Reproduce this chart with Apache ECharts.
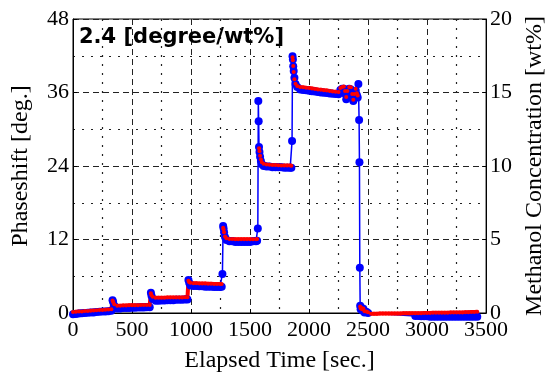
<!DOCTYPE html>
<html>
<head>
<meta charset="utf-8">
<script src="https://cdn.jsdelivr.net/npm/echarts@6/dist/echarts.min.js"></script>
<style>
  html, body { margin: 0; padding: 0; background: #fff; }
  #chart { width: 555px; height: 378px; }
</style>
</head>
<body>
<div id="chart"></div>
<script>
// elapsed time [sec.], one row per concentration step
const elapsedSec = [
  0, 25, 50, 75, 100, 125, 150, 175, 200, 225, 250, 275, 300, 325,
  335, 340, 350, 375, 400, 425, 450, 475, 500, 525, 550, 575, 600, 625, 650,
  660, 665, 675, 700, 725, 750, 775, 800, 825, 850, 875, 900, 925, 950, 970,
  978, 985, 995, 1020, 1045, 1070, 1095, 1120, 1145, 1170, 1195, 1220, 1245, 1260,
  1266, 1272, 1276, 1280, 1288, 1300, 1325, 1350, 1375, 1400, 1425, 1450, 1475, 1500, 1525, 1550, 1560,
  1566, 1570, 1573, 1576, 1580, 1585, 1592, 1600, 1615, 1640, 1665, 1690, 1715, 1740, 1765, 1790, 1815, 1840, 1850,
  1856, 1860, 1863, 1866, 1870, 1876, 1885, 1900, 1925, 1950, 1975, 2000, 2025, 2050, 2075, 2100, 2125, 2150, 2175, 2200, 2225, 2250,
  2265, 2280, 2295, 2305, 2315, 2325, 2340, 2355, 2365, 2375, 2385, 2395, 2405, 2412, 2418,
  2424, 2427, 2430, 2433, 2437, 2442, 2450, 2460, 2470, 2485, 2500,
  2525, 2550, 2575, 2600, 2625, 2650, 2675, 2700, 2725, 2750, 2775, 2800, 2825, 2850, 2875,
  2900, 2925, 2950, 2975, 3000, 3025, 3050, 3075, 3100, 3125, 3150, 3175, 3200, 3225, 3250, 3275, 3300, 3325, 3350, 3375, 3400, 3425
];

// phaseshift [deg.] (blue, left axis)
const phaseshiftDeg = [
  -0.2, -0.15, -0.1, -0.05, 0, 0.05, 0.1, 0.1, 0.15, 0.2, 0.25, 0.25, 0.3, 0.35,
  2.1, 1.8, 1.2, 0.75, 0.75, 0.8, 0.8, 0.8, 0.85, 0.85, 0.9, 0.9, 0.9, 0.95, 0.95,
  3.3, 2.8, 2.3, 2.0, 2.0, 2.05, 2.05, 2.1, 2.1, 2.1, 2.15, 2.15, 2.15, 2.2, 2.2,
  5.4, 4.9, 4.5, 4.4, 4.4, 4.35, 4.35, 4.3, 4.3, 4.3, 4.25, 4.25, 4.25, 4.3,
  6.35, 14.2, 13.8, 13.2, 12.4, 11.9, 11.7, 11.7, 11.6, 11.6, 11.6, 11.6, 11.6, 11.6, 11.7, 11.7, 11.8,
  13.8, 34.6, 31.3, 27.1, 26.3, 25.5, 24.8, 24.3, 24.0, 23.9, 23.9, 23.8, 23.8, 23.8, 23.8, 23.7, 23.7, 23.7, 23.7,
  28.1, 41.9, 41.4, 40.3, 39.5, 38.4, 37.4, 36.9, 36.5, 36.4, 36.35, 36.3, 36.2, 36.15, 36.1, 36.0, 35.95, 35.9, 35.85, 35.8, 35.75, 35.7,
  36.4, 36.6, 36.6, 35.8, 34.9, 35.8, 36.6, 36.5, 35.6, 34.6, 35.4, 36.3, 35.6, 35.2, 37.4,
  31.5, 24.6, 7.4, 1.2, 0.6, 0.9, 0.4, 0.7, 0.1, 0.2, 0.0,
  null, null, null, null, null, null, null, null, null, null, null, null, null, null, null,
  -0.5, -0.5, -0.55, -0.55, -0.55, -0.6, -0.6, -0.6, -0.6, -0.6, -0.6, -0.6, -0.6, -0.6, -0.6, -0.6, -0.6, -0.6, -0.6, -0.6, -0.6, -0.6
];

// methanol concentration [wt%] (red, right axis)
const methanolWt = [
  0.06, 0.08, 0.1, 0.11, 0.13, 0.14, 0.16, 0.17, 0.18, 0.2, 0.21, 0.22, 0.23, 0.25,
  0.85, 0.75, 0.6, 0.5, 0.5, 0.51, 0.51, 0.52, 0.52, 0.53, 0.53, 0.54, 0.54, 0.55, 0.55,
  1.35, 1.2, 1.1, 1.03, 1.03, 1.04, 1.04, 1.05, 1.05, 1.05, 1.06, 1.06, 1.06, 1.07, 1.07,
  2.2, 2.1, 2.05, 2.02, 2.02, 2.01, 2.0, 2.0, 1.99, 1.99, 1.98, 1.98, 1.97, 1.98,
  null, 5.8, 5.7, 5.5, 5.2, 5.08, 5.04, 5.03, 5.02, 5.02, 5.02, 5.01, 5.01, 5.01, 5.02, 5.02, 5.03,
  null, null, null, 11.2, 11.0, 10.7, 10.45, 10.25, 10.15, 10.1, 10.08, 10.07, 10.06, 10.05, 10.04, 10.04, 10.03, 10.03, 10.02,
  null, 17.4, 17.2, 16.8, 16.4, 15.9, 15.6, 15.45, 15.38, 15.35, 15.32, 15.3, 15.27, 15.24, 15.21, 15.19, 15.16, 15.13, 15.1, 15.07, 15.05, 15.03,
  15.3, 15.38, 15.4, 15.1, 14.7, 15.1, 15.38, 15.35, 14.9, 14.5, 14.9, 15.25, 14.95, 14.8, null,
  null, null, null, 0.45, 0.3, 0.35, 0.25, 0.3, 0.12, 0.1, 0.05,
  -0.05, -0.05, -0.05, -0.04, -0.04, -0.04, -0.04, -0.03, -0.03, -0.03, -0.03, -0.02, -0.02, -0.02, -0.02,
  -0.01, -0.01, -0.01, 0, 0, 0, 0.01, 0.01, 0.01, 0.02, 0.02, 0.02, 0.03, 0.03, 0.03, 0.04, 0.04, 0.05, 0.05, 0.06, 0.07, 0.08
];

if (phaseshiftDeg.length !== elapsedSec.length || methanolWt.length !== elapsedSec.length) {
  console.warn('length mismatch', elapsedSec.length, phaseshiftDeg.length, methanolWt.length);
}

const pair = (vals) => elapsedSec.map((t, i) => [t, vals[i] == null ? '-' : vals[i]]);

const serif = 'Liberation Serif';
const majorLine = { show: true, lineStyle: { color: '#222', type: [6, 4], width: 1 } };
const minorLine = { show: true, lineStyle: { color: '#222', type: [2, 7], width: 1.2 } };
// tick labels go through rich text so the serif face is applied for sure
const tickLabel = {
  color: '#000',
  formatter: (v) => '{t|' + v + '}',
  rich: { t: { fontFamily: serif, fontSize: 22, color: '#000' } }
};

const chart = echarts.init(document.getElementById('chart'));

chart.setOption({
  animation: false,
  backgroundColor: '#fff',
  textStyle: { fontFamily: serif },
  title: {
    text: '2.4 [degree/wt%]',
    left: 79,
    top: 27,
    padding: 0,
    textStyle: { fontFamily: 'DejaVu Sans', fontWeight: 'bold', fontSize: 21, color: '#000' }
  },
  grid: {
    left: 73, right: 61, top: 19, bottom: 62,
    show: true, borderColor: '#000', borderWidth: 1, backgroundColor: '#fff'
  },
  xAxis: {
    type: 'value',
    min: 0, max: 3500, interval: 500,
    name: 'Elapsed Time [sec.]',
    nameLocation: 'middle',
    nameGap: 36,
    nameTextStyle: { fontFamily: serif, fontSize: 24, color: '#000' },
    axisLine: { lineStyle: { color: '#000' } },
    axisTick: { inside: true, length: 4, lineStyle: { color: '#000' } },
    axisLabel: Object.assign({ margin: 6 }, tickLabel),
    splitLine: majorLine,
    minorTick: { show: false, splitNumber: 2 },
    minorSplitLine: minorLine
  },
  yAxis: [{
    type: 'value',
    min: 0, max: 48, interval: 12,
    name: 'Phaseshift [deg.]',
    nameLocation: 'middle',
    nameRotate: 90,
    nameGap: 40,
    nameTextStyle: { fontFamily: serif, fontSize: 24, color: '#000' },
    axisLine: { show: true, lineStyle: { color: '#000' } },
    axisTick: { inside: true, length: 4, lineStyle: { color: '#000' } },
    axisLabel: Object.assign({ margin: 4 }, tickLabel),
    splitLine: majorLine,
    minorTick: { show: false, splitNumber: 2 },
    minorSplitLine: minorLine
  }, {
    type: 'value',
    position: 'right',
    min: 0, max: 20, interval: 5,
    name: 'Methanol Concentration [wt%]',
    nameLocation: 'middle',
    nameRotate: 90,
    nameGap: 36,
    nameTextStyle: { fontFamily: serif, fontSize: 24, color: '#000' },
    axisLine: { show: true, lineStyle: { color: '#000' } },
    axisTick: { inside: true, length: 4, lineStyle: { color: '#000' } },
    axisLabel: Object.assign({ margin: 4 }, tickLabel),
    splitLine: { show: false }
  }],
  series: [{
    name: 'Phaseshift',
    type: 'line',
    yAxisIndex: 0,
    data: pair(phaseshiftDeg),
    connectNulls: true,
    clip: false,
    symbol: 'circle',
    symbolSize: 8,
    itemStyle: { color: '#0000ff' },
    lineStyle: { color: '#0000ff', width: 1.5 }
  }, {
    name: 'Methanol',
    type: 'line',
    yAxisIndex: 1,
    data: pair(methanolWt),
    connectNulls: false,
    clip: false,
    symbol: 'circle',
    symbolSize: 4,
    itemStyle: { color: '#ff0000' },
    lineStyle: { color: '#ff0000', width: 4 }
  }]
});
</script>
</body>
</html>
